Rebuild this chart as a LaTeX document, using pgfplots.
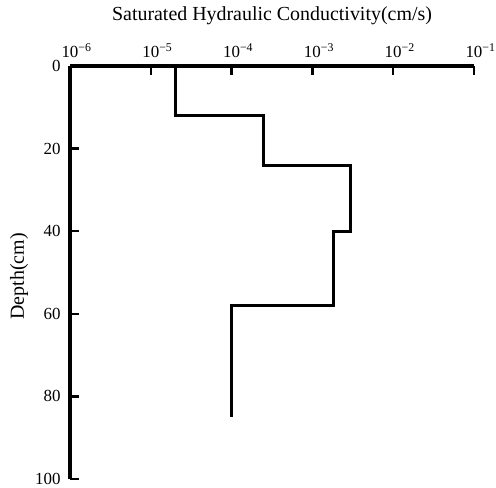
\documentclass[border=0pt]{standalone}
\usepackage{fontspec}
\setmainfont{Liberation Serif}
\usepackage{pgfplots}
\pgfplotsset{compat=1.18}
\begin{document}
\begin{tikzpicture}
\begin{axis}[
  name=ax,
  scale only axis, width=404bp, height=413bp,
  xmode=log, xmin=1e-6, xmax=1e-1,
  ymin=0, ymax=100, y dir=reverse,
  axis x line*=top, axis y line*=left,
  axis line style={line width=3.5bp, -},
  xtick={1e-6,1e-5,1e-4,1e-3,1e-2,1e-1},
  xticklabels={10\rlap{\textsuperscript{−6}},10\rlap{\textsuperscript{−5}},10\rlap{\textsuperscript{−4}},10\rlap{\textsuperscript{−3}},10\rlap{\textsuperscript{−2}},10\rlap{\textsuperscript{−1}}},
  ytick={0,20,40,60,80,100},
  xminorticks=false, yminorticks=false,
  major tick length=9bp,
  tick style={line width=2.5bp, black},
  /pgf/number format/assume math mode=true,
  ticklabel style={font=\fontsize{17}{19}\selectfont},
  yticklabel style={xshift=-6bp},
  xticklabel style={yshift=5bp},
  ylabel={Depth(cm)},
  ylabel style={font=\fontsize{20}{22}\selectfont, xshift=-4bp},
  title={Saturated Hydraulic Conductivity(cm/s)},
  title style={font=\fontsize{20}{22}\selectfont, anchor=base, at={(axis description cs:0.5,1)}, yshift=40bp},
  clip=false,
  xtick align=inside, ytick align=inside,
]
\addplot[line width=3bp, black, line join=miter] coordinates {
(2e-5,0) (2e-5,12) (2.45e-4,12) (2.45e-4,24) (2.95e-3,24) (2.95e-3,40)
(1.8e-3,40) (1.8e-3,58) (1e-4,58) (1e-4,85)};
\end{axis}
\pgfresetboundingbox
\path[use as bounding box] ([shift={(-70bp,-9bp)}]ax.south west) rectangle ([shift={(426bp,479bp)}]ax.south west);
\end{tikzpicture}
\end{document}
